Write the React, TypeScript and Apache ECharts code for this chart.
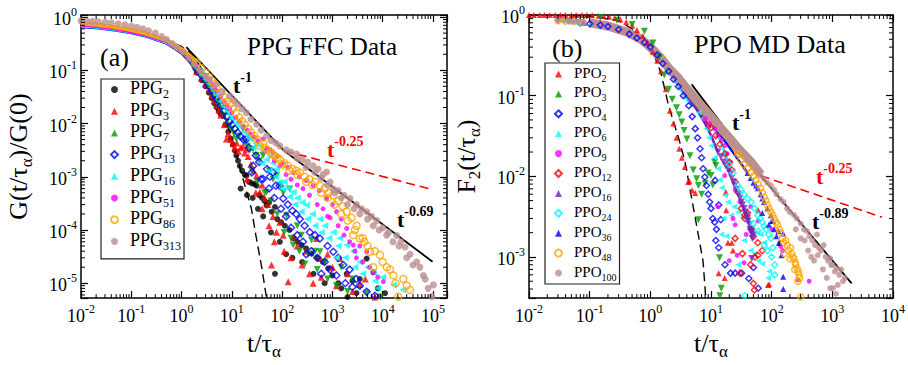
import React, { useEffect, useRef } from "react";
import * as echarts from "echarts";

const SERIF = '"Liberation Serif", "Times New Roman", "DejaVu Serif", serif';

type P = [number, number];

// ---------------- Panel (a): PPG FFC data ----------------
const A_X_MIN = 0.01, A_X_MAX = 190000, A_Y_MIN = 5.25e-6, A_Y_MAX = 1.094;
const A_EARLY_X = [0.01, 0.02, 0.05, 0.1, 0.2, 0.5, 1, 1.5, 2];
const PPG2_EARLY = [0.72, 0.68, 0.6, 0.53, 0.45, 0.33, 0.21, 0.14, 0.09];
const PPG3_EARLY = [0.72, 0.68, 0.6, 0.53, 0.45, 0.33, 0.21, 0.14, 0.095];
const PPG7_EARLY = [0.7, 0.66, 0.59, 0.52, 0.45, 0.33, 0.215, 0.145, 0.1];
const PPG13_EARLY = [0.65, 0.62, 0.56, 0.5, 0.43, 0.32, 0.215, 0.15, 0.105];
const PPG16_EARLY = [0.67, 0.64, 0.57, 0.51, 0.44, 0.33, 0.22, 0.155, 0.11];
const PPG51_EARLY = [0.7, 0.66, 0.59, 0.52, 0.45, 0.34, 0.23, 0.165, 0.12];
const PPG86_EARLY = [0.76, 0.72, 0.64, 0.57, 0.49, 0.37, 0.25, 0.185, 0.14];

const PPG2_PTS: P[] = [[2,0.09],[2.5,0.065],[3,0.05],[3.5,0.038],[4,0.03],[4.5,0.024],[5,0.02],[5.5,0.017],[6,0.015],[6.7,0.0138],[7.5,0.0095],[8.5,0.007],[9.5,0.0052],[10.5,0.004],[11.5,0.0031],[12.3,0.0025],[13.3,0.002],[14.4,0.0016],[16,0.0013],[18,0.0011],[19.5,0.00105],[22,0.0008],[25,0.00075],[28.6,0.00073],[31,0.00068],[35,0.00045],[40,0.0004],[45,0.00035],[49,0.00029],[55,0.00033],[62,0.00022],[72,0.00027],[80,0.00016],[95,0.00014],[113,0.00012],[140,0.0001],[170,0.00007],[200,0.00006],[243,0.000052],[300,0.000045],[385,0.000036],[500,0.00003],[650,0.000025],[828,0.000019],[1000,0.000014],[1310,0.00001],[1920,0.000015],[2500,0.000011],[4800,0.000029],[6520,0.000016],[11100,0.0000065],[72,0.000015],[2000,0.0000055],[3000,0.0000065],[15,0.0006],[20,0.00045],[26,0.0004],[33,0.00025],[42,0.00018],[60,0.00009],[90,0.00006],[120,0.000035],[160,0.00003],[250,0.000025],[420,0.000015],[700,0.00001],[1500,0.000008],[3500,0.000012],[8000,0.000008]];
const PPG3_PTS: P[] = [[2,0.095],[2.5,0.07],[3,0.055],[3.5,0.043],[4,0.034],[4.5,0.027],[5,0.022],[5.5,0.018],[6,0.0145],[7,0.0095],[7.8,0.0051],[8.5,0.0065],[9.5,0.005],[10.5,0.0042],[11.5,0.0035],[12.5,0.0043],[13.5,0.003],[15,0.0035],[16.6,0.0038],[18,0.0028],[19.5,0.0033],[21,0.0024],[24,0.0017],[27,0.0013],[31,0.00105],[36,0.00051],[40,0.0007],[45,0.0004],[52,0.0003],[61.5,0.000022],[66,0.00018],[77,0.000091],[90,0.00014],[105,0.00008],[132,0.0000107],[166,0.000074],[200,0.00005],[300,0.00004],[415,0.00001],[484,0.000069],[564,0.000029],[800,0.000035],[1000,0.00002],[1413,0.000029],[2000,0.000015],[3500,0.0000095],[7000,0.0000055],[20,0.0009],[30,0.0005],[40,0.00025],[55,0.00012],[70,0.00006],[110,0.00004],[150,0.00003],[250,0.000022],[350,0.000015],[600,0.000013],[1200,0.000009],[2500,0.000007],[4500,0.000012]];
const PPG7_PTS: P[] = [[2,0.1],[2.5,0.075],[3,0.06],[3.5,0.048],[4,0.038],[4.5,0.031],[5,0.026],[5.5,0.022],[6,0.019],[7,0.014],[8,0.011],[9,0.009],[10,0.0078],[11,0.0065],[12.3,0.0051],[14,0.0058],[16.6,0.0079],[18,0.0045],[20,0.0038],[23,0.0032],[26.3,0.0033],[30,0.0025],[35,0.002],[41.7,0.0025],[49,0.00051],[55,0.0013],[66,0.0009],[77,0.00105],[90,0.0007],[105,0.0005],[122,0.00019],[141,0.00059],[166,0.000052],[200,0.00012],[240,0.00008],[283,0.000023],[385,0.000065],[450,0.00004],[564,0.000039],[700,0.000025],[893,0.0000052],[1500,0.00002],[2500,0.000012],[4800,0.0000065],[9000,0.0000055],[25,0.0013],[32,0.0008],[45,0.0005],[60,0.00035],[80,0.0002],[110,0.00009],[150,0.00007],[220,0.00004],[330,0.000035],[500,0.000018],[800,0.000012],[1200,0.000009],[2000,0.000007]];
const PPG13_PTS: P[] = [[2,0.105],[2.5,0.08],[3,0.063],[3.5,0.051],[4,0.042],[4.5,0.035],[5,0.029],[6,0.022],[7,0.017],[8,0.0135],[9,0.011],[10,0.0095],[11.5,0.008],[13,0.0068],[15,0.0057],[17,0.005],[19.5,0.0051],[22,0.0035],[26.5,0.0016],[30,0.0025],[35,0.0019],[41.7,0.00091],[50,0.0014],[57,0.001],[66,0.0012],[75,0.00068],[89,0.00068],[105,0.00039],[130,0.0003],[160,0.00023],[190,0.0002],[225,0.00016],[280,0.00012],[355,0.000091],[450,0.00008],[564,0.000069],[800,0.00005],[1040,0.000039],[1300,0.00003],[1645,0.000022],[2200,0.000018],[3000,0.000012],[4800,0.0000069],[300,0.000035],[600,0.000015],[2500,0.0000085],[7000,0.0000058],[25,0.0012],[38,0.0009],[55,0.0006],[70,0.0004],[95,0.00025],[120,0.00018],[150,0.00011],[200,0.00008],[260,0.00006],[380,0.00004],[500,0.00003],[700,0.000025],[900,0.000018],[1200,0.000014],[1800,0.00001],[3500,0.000009]];
const PPG16_PTS: P[] = [[2,0.11],[2.5,0.085],[3,0.068],[3.5,0.056],[4,0.047],[4.5,0.04],[5,0.034],[6,0.026],[7,0.021],[8,0.017],[9,0.0145],[10,0.0125],[12,0.01],[14.4,0.0089],[17,0.007],[20,0.006],[23,0.0051],[26.5,0.0035],[30,0.0042],[36,0.0038],[42,0.003],[49,0.0021],[57,0.0025],[66,0.0018],[77,0.0014],[90,0.00079],[110,0.0008],[130,0.0006],[166,0.00051],[200,0.0004],[250,0.00033],[305,0.00029],[400,0.0002],[564,0.00016],[700,0.00012],[1040,0.000091],[1400,0.00007],[1920,0.000052],[2600,0.00004],[3530,0.000025],[5000,0.00002],[6520,0.000016],[10000,0.000013],[16300,0.0000093],[25000,0.0000075],[47500,0.0000052],[1200,0.00003],[8000,0.000008],[40,0.0018],[55,0.0013],[75,0.001],[100,0.0006],[140,0.00042],[180,0.0003],[240,0.00022],[320,0.00016],[450,0.00012],[600,0.00009],[850,0.00007],[1300,0.00005],[1800,0.00003],[2800,0.00002],[4000,0.000015],[7000,0.000011]];
const PPG51_PTS: P[] = [[2,0.12],[2.5,0.095],[3,0.078],[3.5,0.065],[4,0.055],[4.5,0.047],[5,0.041],[6,0.032],[7,0.026],[8,0.022],[9,0.019],[10,0.016],[12,0.013],[14,0.011],[17,0.0088],[20,0.0075],[24,0.0063],[28,0.0055],[33,0.0047],[41.7,0.0051],[50,0.0035],[58,0.0032],[66,0.0029],[80,0.0024],[100,0.0018],[130,0.0015],[166,0.0012],[220,0.001],[300,0.00085],[415,0.00068],[550,0.00055],[766,0.00039],[1000,0.0003],[1212,0.00022],[1500,0.00016],[1920,0.000107],[2600,0.000052],[3500,0.00005],[4800,0.000039],[6520,0.000016],[10300,0.0000107],[800,0.00018],[3000,0.00003],[45,0.003],[70,0.002],[90,0.0016],[120,0.0011],[150,0.0009],[200,0.0007],[260,0.0006],[350,0.00045],[500,0.0003],[650,0.00025],[900,0.00017],[1300,0.00012],[1700,0.00008],[2200,0.00006],[2800,0.00004],[4000,0.000025],[5500,0.00002],[8000,0.000013]];
const PPG86_PTS: P[] = [[2,0.14],[2.5,0.11],[3,0.09],[3.5,0.075],[4,0.064],[4.5,0.055],[5,0.048],[6,0.038],[7,0.031],[8,0.026],[9.2,0.023],[10.5,0.019],[12,0.016],[14,0.013],[16,0.011],[18,0.0095],[21,0.008],[24,0.0068],[28,0.0058],[32,0.005],[36,0.0038],[42,0.0042],[50,0.0032],[60,0.0028],[70,0.0025],[80,0.0023],[90,0.0021],[110,0.0018],[130,0.0016],[160,0.0014],[190,0.0013],[225,0.0012],[280,0.001],[350,0.0009],[450,0.0008],[564,0.00068],[700,0.0006],[850,0.0005],[1040,0.00045],[1300,0.00035],[1600,0.00028],[1920,0.00022],[2400,0.00017],[3030,0.00012],[3530,0.000069],[4300,0.00006],[5600,0.000039],[8850,0.000034],[12000,0.00002],[16300,0.000014],[25700,0.000012],[35000,0.0000075],[20400,0.0000056],[6500,0.00002],[2600,0.00008],[45,0.0035],[65,0.0026],[100,0.0017],[140,0.0013],[200,0.0011],[300,0.0008],[400,0.0007],[600,0.0005],[800,0.0004],[1100,0.0003],[1500,0.0002],[2000,0.00015],[2800,0.0001],[4000,0.00007],[5000,0.00005],[7000,0.00004],[10000,0.000025],[14000,0.000018],[18000,0.00001],[30000,0.000009]];
const PPG313_PTS: P[] = [[0.01,0.85],[0.013,0.84],[0.017,0.83],[0.022,0.82],[0.03,0.8],[0.04,0.78],[0.055,0.75],[0.075,0.72],[0.1,0.68],[0.13,0.64],[0.17,0.6],[0.22,0.55],[0.3,0.5],[0.4,0.43],[0.5,0.38],[0.65,0.32],[0.8,0.27],[1.07,0.225],[1.4,0.17],[1.8,0.13],[2.3,0.1],[3,0.078],[3.6,0.067],[4.9,0.054],[6.5,0.04],[9.1,0.033],[11,0.027],[13.1,0.023],[16,0.019],[19.5,0.016],[24,0.012],[31,0.0097],[38,0.0075],[49,0.0059],[60,0.0048],[75,0.0043],[90,0.0038],[120,0.0032],[150,0.0029],[194,0.00266],[250,0.0021],[320,0.0019],[410,0.0016],[520,0.0014],[650,0.0011],[766,0.00123],[900,0.0008],[1040,0.00059],[1300,0.00055],[1700,0.00045],[2240,0.00039],[3000,0.0003],[3800,0.00025],[4800,0.00022],[6000,0.00018],[7600,0.00015],[10000,0.00011],[13000,0.00009],[19000,0.000079],[23000,0.00006],[27900,0.000048],[35000,0.000035],[47500,0.000025],[55000,0.00002],[64500,0.000014],[102000,0.0000093],[95000,0.0000056],[200,0.0022],[300,0.0015],[450,0.0012],[600,0.00095],[800,0.0007],[1100,0.0005],[1500,0.0004],[2000,0.0003],[2700,0.00025],[3500,0.0002],[5000,0.00016],[6500,0.00012],[8500,0.0001],[12000,0.00008],[16000,0.00006],[21000,0.00005],[30000,0.00003],[40000,0.000022],[70000,0.000012],[80000,0.000008]];

const A_SLOPE_ONE: P[] = [[1.24, 0.272], [110, 0.00307], [98000, 2.54e-5]];
const A_SLOPE_QUARTER: P[] = [[110, 0.00307], [98000, 5.75e-4]];
const A_DASHED: P[] = [[0.01,0.8],[0.03,0.72],[0.1,0.6],[0.3,0.45],[1,0.28],[1.6,0.2],[3,0.085],[5,0.033],[7,0.014],[10.6,0.0044],[15,0.0013],[20,5e-4],[24.5,2.5e-4],[30,8e-5],[40,1.8e-5],[49,5.2e-6]];

// ---------------- Panel (b): PPO MD data ----------------
const B_X_MIN = 0.01, B_X_MAX = 10000, B_Y_MIN = 3.09e-4, B_Y_MAX = 1;

const PPO2_PTS: P[] = [[0.01,1],[0.012,1],[0.015,1],[0.018,1],[0.022,1],[0.027,1],[0.033,1],[0.04,1],[0.05,1],[0.06,1],[0.075,1],[0.09,1],[0.11,0.99],[0.14,0.98],[0.17,0.97],[0.21,0.95],[0.26,0.92],[0.32,0.88],[0.4,0.82],[0.5,0.74],[0.6,0.65],[0.75,0.55],[0.9,0.45],[1.1,0.35],[1.3,0.27],[1.5,0.2],[1.8,0.12],[2.1,0.065],[2.4,0.045],[2.7,0.03],[3,0.022],[3.3,0.017],[3.7,0.013],[4.2,0.0085],[4.4,0.0087],[4.9,0.0067],[5.5,0.0062],[13.4,0.00063],[16.8,0.00055],[17.6,0.0064],[17.8,0.0038],[19,0.0015],[22,0.0015],[23,0.0012],[60,0.0038],[87,0.00045],[91,0.00046]];
const PPO3_PTS: P[] = [[0.15,0.93],[0.28,0.86],[0.5,0.76],[0.8,0.63],[1.1,0.45],[1.4,0.3],[1.7,0.18],[2,0.12],[2.3,0.09],[2.7,0.071],[3,0.058],[3.3,0.047],[3.6,0.037],[4,0.029],[4.5,0.018],[5.1,0.012],[5.8,0.0093],[6.2,0.0077],[6.2,0.0029],[7,0.006],[8,0.0082],[9,0.011],[10,0.0102],[10.7,0.0078],[11.5,0.015],[12,0.0136],[13.8,0.00098],[14.8,0.00041],[14,0.00033]];
const PPO4_PTS: P[] = [[0.07,0.8],[0.1,0.78],[0.15,0.75],[0.2,0.72],[0.3,0.66],[0.45,0.58],[0.6,0.52],[0.8,0.46],[1,0.4],[1.3,0.32],[1.6,0.25],[2,0.2],[2.4,0.16],[2.9,0.13],[3.5,0.1],[4.3,0.075],[4.9,0.055],[5.5,0.039],[6,0.03],[6.6,0.022],[7,0.017],[7.4,0.0124],[7.9,0.0098],[8.4,0.0077],[9,0.006],[9.5,0.0048],[10,0.004],[10.7,0.003],[11.7,0.0089],[12.3,0.0022],[13.4,0.0044],[13.4,0.0013],[14.5,0.0029],[17,0.0008],[21,0.00063],[25,0.00063],[32,0.00063],[42,0.00054],[50,0.00074],[60,0.00041],[11.5,0.0027],[12,0.0016]];
const PPO6_BAND: P[] = [[0.1,0.79],[0.3,0.66],[0.6,0.52],[1,0.4],[1.5,0.28],[2,0.2],[3,0.125],[4,0.09],[5,0.073]];
const PPO6_PTS: P[] = [[0.04,0.84],[0.055,0.82],[6.35,0.062],[7.2,0.052],[8.4,0.039],[9.2,0.03],[10.1,0.024],[11.5,0.017],[13,0.0124],[14,0.009],[15,0.0072],[16,0.003],[14.8,0.0019],[17,0.0058],[19,0.0048],[21.5,0.0033],[18,0.0018],[24,0.0042],[28,0.0036],[33,0.0031],[40,0.0027],[48,0.0023],[57,0.002],[66,0.0019],[75,0.0015],[91,0.00066],[87,0.00055],[35,0.0016],[45,0.0012],[60,0.0009],[28,0.0008],[52,0.0011],[70,0.00082]];
const PPO9_BAND: P[] = [[0.1,0.79],[0.3,0.66],[0.6,0.52],[1,0.4],[1.5,0.28],[2,0.2],[3,0.135],[4,0.1],[6,0.07],[8,0.052]];
const PPO9_PTS: P[] = [[0.05,0.83],[8,0.052],[9.5,0.045],[11.5,0.039],[13,0.032],[15,0.028],[16.8,0.024],[16.8,0.0102],[18.5,0.019],[20,0.012],[21,0.015],[23,0.003],[25,0.0025],[25,0.0068],[27,0.00105],[30,0.0048],[38,0.0019],[45,0.0042],[60,0.0028],[100,0.0022],[141,0.00135],[152,0.0012],[270,0.00052],[415,0.0005],[13,0.0042],[20,0.0009],[35,0.00085]];
const PPO12_BAND: P[] = [[0.1,0.79],[0.3,0.66],[0.6,0.52],[1,0.4],[1.5,0.28],[2,0.205],[3,0.14],[4,0.105],[6,0.07],[8,0.05],[10,0.04]];
const PPO12_PTS: P[] = [[10,0.04],[12,0.032],[14,0.025],[17,0.019],[20,0.015],[22,0.012],[25,0.0085],[28,0.0063],[31.6,0.004],[36,0.0033],[36,0.003],[40,0.0035],[46,0.0022],[50,0.0018],[59,0.0015],[59,0.00105],[53,0.001],[50,0.00047],[52,0.00039],[30,0.00063],[25,0.0017],[33,0.0011],[45,0.0008],[70,0.0012]];
const PPO16_BAND: P[] = [[0.1,0.79],[0.3,0.66],[0.6,0.52],[1,0.4],[1.5,0.28],[2,0.205],[3,0.14],[4,0.1],[6,0.065],[8,0.045],[10,0.032],[13,0.02]];
const PPO16_PTS: P[] = [[0.03,0.85],[0.045,0.83],[0.065,0.81],[13,0.02],[14.5,0.0175],[16,0.015],[17.5,0.0135],[19,0.0124],[20.5,0.0108],[22,0.0095],[23.5,0.0085],[24.5,0.0077],[26,0.0069],[28,0.006],[30,0.0054],[31.6,0.0048],[33,0.0044],[35,0.004],[36.5,0.0036],[38,0.0033],[40,0.003],[41,0.0028],[43,0.0025],[44,0.0022],[46,0.002],[48,0.0017],[50,0.0019],[47,0.00096],[45,0.0021]];
const PPO24_BAND: P[] = [[0.1,0.79],[0.3,0.66],[0.6,0.52],[1,0.4],[1.5,0.285],[2,0.21],[3,0.145],[4,0.11],[6,0.075],[9,0.05],[13,0.033],[20,0.014]];
const PPO24_PTS: P[] = [[0.05,0.83],[0.07,0.81],[20,0.014],[23,0.011],[27.5,0.0077],[31,0.0068],[35,0.006],[40,0.0053],[46,0.0048],[52,0.004],[59,0.0033],[65,0.003],[70,0.0027],[75,0.0024],[80,0.0022],[90,0.0019],[97,0.0017],[100,0.001],[105,0.0013],[112,0.0008],[112,0.0006],[36,0.00033],[75,0.0014],[85,0.0012],[60,0.0021],[50,0.0026]];
const PPO36_BAND: P[] = [[0.1,0.79],[0.3,0.66],[0.6,0.52],[1,0.4],[1.5,0.285],[2,0.21],[3,0.15],[4,0.115],[6,0.078],[9,0.052],[13,0.036],[20,0.023],[30,0.015],[40,0.011]];
const PPO36_PTS: P[] = [[0.08,0.8],[40,0.011],[45,0.0095],[50,0.0083],[55,0.0077],[59,0.0071],[66,0.006],[70,0.0053],[75,0.0048],[85,0.004],[97,0.0033],[105,0.0028],[110,0.0022],[120,0.0018],[132,0.0015],[155,0.00195],[135,0.0015],[145,0.00105],[155,0.00057],[155,0.0004],[100,0.0028],[70,0.0035],[90,0.0025],[130,0.0021]];
const PPO48_BAND: P[] = [[0.1,0.79],[0.3,0.665],[0.6,0.52],[1,0.4],[1.5,0.29],[2,0.215],[3,0.155],[4,0.118],[6,0.082],[9,0.056],[13,0.04],[20,0.027],[27.5,0.019]];
const PPO48_PTS: P[] = [[0.03,0.85],[0.04,0.84],[0.055,0.83],[0.075,0.81],[27.5,0.019],[31,0.016],[35,0.014],[40,0.0125],[46,0.0112],[50,0.01],[55,0.009],[60,0.008],[66,0.0071],[70,0.0063],[75,0.0055],[80,0.005],[85,0.0044],[90,0.004],[97,0.0036],[104,0.0033],[110,0.003],[118,0.0027],[125,0.0025],[133,0.0022],[141,0.002],[150,0.0017],[158,0.0015],[170,0.0016],[180,0.0014],[190,0.0012],[204,0.0013],[215,0.0011],[220,0.001],[234,0.00096],[245,0.00085],[250,0.0008],[263,0.00072],[275,0.00066],[282,0.0006],[270,0.0005],[290,0.00055],[302,0.00032],[160,0.0011],[240,0.0007],[200,0.00095]];
const PPO100_BAND: P[] = [[0.1,0.8],[0.2,0.73],[0.4,0.62],[0.7,0.5],[1,0.4],[1.5,0.29],[2,0.22],[3,0.16],[4,0.122],[6,0.085],[9,0.06],[13,0.043],[20,0.03],[30,0.021],[46,0.015],[66,0.0105]];
const PPO100_PTS: P[] = [[0.03,0.87],[0.037,0.86],[0.045,0.85],[0.055,0.84],[0.067,0.83],[0.08,0.82],[66,0.0102],[75,0.0092],[85,0.0083],[97,0.0077],[110,0.0068],[120,0.006],[140,0.0052],[158,0.0048],[180,0.004],[200,0.0036],[234,0.0033],[260,0.003],[300,0.0026],[340,0.0022],[380,0.0021],[420,0.0018],[470,0.0016],[520,0.0014],[560,0.0019],[600,0.0013],[650,0.0012],[720,0.0014],[780,0.001],[850,0.0009],[920,0.00096],[1000,0.0008],[1170,0.00072],[1100,0.00066],[810,0.00055],[920,0.00041],[575,0.00105],[955,0.0008],[1230,0.00045],[1020,0.00041],[1300,0.0006],[1500,0.0005],[1400,0.0007],[700,0.0007],[500,0.0009],[400,0.0012],[350,0.0016],[450,0.001],[300,0.0017],[250,0.0022],[1150,0.00035],[1600,0.00055]];

const B_SLOPE_ONE: P[] = [[4.79, 0.138], [66, 0.0102], [2080, 4.7e-4]];
const B_SLOPE_QUARTER: P[] = [[66, 0.0102], [6600, 0.0031]];
const B_DASHED: P[] = [[0.01,1],[0.1,0.97],[0.3,0.85],[0.6,0.62],[1.07,0.37],[1.5,0.19],[2,0.075],[3,0.028],[3.74,0.015],[5.4,0.0033],[7.4,8.8e-4],[8.2,3.1e-4]];

// ---------------- styling ----------------
const C = {
  black: "#000000", red: "#ff0000", green: "#009a00", blue: "#0000ff", cyan: "#00ffff",
  magenta: "#ff00ff", orange: "#ffa500", brown: "#bc8f8f", purple: "#7221bc",
};

type SetDef = { name: string; pts: P[]; band?: P[]; color: string; symbol: string; rot: number; open: boolean; size: number; bandWidth?: number };

const zip = (xs: number[], ys: number[]): P[] => xs.map((x, i) => [x, ys[i]]);

const A_SETS: SetDef[] = [
  { name: "PPG2", pts: PPG2_PTS, band: zip(A_EARLY_X, PPG2_EARLY), color: C.black, symbol: "circle", rot: 0, open: false, size: 6 },
  { name: "PPG3", pts: PPG3_PTS, band: zip(A_EARLY_X, PPG3_EARLY), color: C.red, symbol: "triangle", rot: 0, open: false, size: 7 },
  { name: "PPG7", pts: PPG7_PTS, band: zip(A_EARLY_X, PPG7_EARLY), color: C.green, symbol: "triangle", rot: 180, open: false, size: 7 },
  { name: "PPG13", pts: PPG13_PTS, band: zip(A_EARLY_X, PPG13_EARLY), color: C.blue, symbol: "diamond", rot: 0, open: true, size: 7 },
  { name: "PPG16", pts: PPG16_PTS, band: zip(A_EARLY_X, PPG16_EARLY), color: C.cyan, symbol: "triangle", rot: 90, open: false, size: 7 },
  { name: "PPG51", pts: PPG51_PTS, band: zip(A_EARLY_X, PPG51_EARLY), color: C.magenta, symbol: "circle", rot: 0, open: false, size: 5 },
  { name: "PPG86", pts: PPG86_PTS, band: zip(A_EARLY_X, PPG86_EARLY), color: C.orange, symbol: "circle", rot: 0, open: true, size: 7, bandWidth: 4 },
  { name: "PPG313", pts: PPG313_PTS, color: C.brown, symbol: "circle", rot: 0, open: false, size: 7 },
];

const B_SETS: SetDef[] = [
  { name: "PPO2", pts: PPO2_PTS, color: C.red, symbol: "triangle", rot: 0, open: false, size: 6 },
  { name: "PPO3", pts: PPO3_PTS, color: C.green, symbol: "triangle", rot: 180, open: false, size: 7 },
  { name: "PPO4", pts: PPO4_PTS, color: C.blue, symbol: "diamond", rot: 0, open: true, size: 6 },
  { name: "PPO6", pts: PPO6_PTS, band: PPO6_BAND, color: C.cyan, symbol: "triangle", rot: 90, open: false, size: 6 },
  { name: "PPO9", pts: PPO9_PTS, band: PPO9_BAND, color: C.magenta, symbol: "circle", rot: 0, open: false, size: 5 },
  { name: "PPO12", pts: PPO12_PTS, band: PPO12_BAND, color: C.red, symbol: "diamond", rot: 0, open: true, size: 6 },
  { name: "PPO16", pts: PPO16_PTS, band: PPO16_BAND, color: C.purple, symbol: "triangle", rot: 180, open: false, size: 7 },
  { name: "PPO24", pts: PPO24_PTS, band: PPO24_BAND, color: C.cyan, symbol: "diamond", rot: 0, open: true, size: 6 },
  { name: "PPO36", pts: PPO36_PTS, band: PPO36_BAND, color: C.blue, symbol: "triangle", rot: 0, open: false, size: 6 },
  { name: "PPO48", pts: PPO48_PTS, band: PPO48_BAND, color: C.orange, symbol: "circle", rot: 0, open: true, size: 6, bandWidth: 4 },
  { name: "PPO100", pts: PPO100_PTS, band: PPO100_BAND, color: C.brown, symbol: "circle", rot: 0, open: false, size: 6, bandWidth: 9 },
];

const tickRich = {
  b: { fontSize: 18, fontFamily: SERIF, color: "#000", padding: [4, 0, 0, 0] },
  s: { fontSize: 12, fontFamily: SERIF, color: "#000", verticalAlign: "top" },
};

function tickFmt(v: number) {
  const e = Math.log10(v);
  const r = Math.round(e);
  if (Math.abs(e - r) > 1e-6) return "";
  return `{b|10}{s|${r}}`;
}

const nameRich = {
  b: { fontSize: 26, fontFamily: SERIF, color: "#000", verticalAlign: "top" },
  s: { fontSize: 17, fontFamily: SERIF, color: "#000", verticalAlign: "top", padding: [13, 0, 0, 0] },
};

function xAxis(grid: number, min: number, max: number, main: boolean) {
  return {
    type: "log", logBase: 10, gridIndex: grid, min, max, splitNumber: 5,
    position: main ? "bottom" : "top",
    axisLine: { show: true, onZero: false, lineStyle: { color: "#000", width: 1.5 } },
    axisTick: { show: true, inside: true, length: 7, lineStyle: { color: "#000", width: 1.2 } },
    splitLine: { show: false },
    axisLabel: main ? { show: true, interval: 0, margin: 5, formatter: tickFmt, rich: tickRich } : { show: false },
    name: main ? "{b|t/τ}{s|α}" : "",
    nameLocation: "middle", nameGap: 30,
    nameTextStyle: { rich: nameRich },
  };
}

function yAxis(grid: number, min: number, max: number, main: boolean, name: string) {
  return {
    type: "log", logBase: 10, gridIndex: grid, min, max, splitNumber: 5,
    position: main ? "left" : "right",
    axisLine: { show: true, onZero: false, lineStyle: { color: "#000", width: 1.5 } },
    axisTick: { show: true, inside: true, length: 7, lineStyle: { color: "#000", width: 1.2 } },
    splitLine: { show: false },
    axisLabel: main ? { show: true, interval: 0, margin: 4, formatter: tickFmt, rich: tickRich } : { show: false },
    name: main ? name : "",
    nameLocation: "middle", nameGap: 46,
    nameTextStyle: { rich: nameRich },
  };
}

function minorTicks(xi: number, yi: number, xmin: number, xmax: number, ymin: number, ymax: number) {
  const data: number[][] = [];
  for (let d = Math.floor(Math.log10(xmin)); d <= Math.ceil(Math.log10(xmax)); d++)
    for (let m = 2; m <= 9; m++) { const v = m * Math.pow(10, d); if (v > xmin && v < xmax) data.push([v, ymax, 0]); }
  for (let d = Math.floor(Math.log10(ymin)); d <= Math.ceil(Math.log10(ymax)); d++)
    for (let m = 2; m <= 9; m++) { const v = m * Math.pow(10, d); if (v > ymin && v < ymax) data.push([xmax, v, 1]); }
  return {
    type: "custom", xAxisIndex: xi, yAxisIndex: yi, silent: true, z: 20, clip: false, data,
    renderItem: (params: any, api: any) => {
      const cs = params.coordSys;
      const kind = api.value(2);
      const p = api.coord([api.value(0), api.value(1)]);
      const st = { stroke: "#000", lineWidth: 1 };
      if (kind === 0) {
        return { type: "group", children: [
          { type: "line", shape: { x1: p[0], y1: cs.y + cs.height, x2: p[0], y2: cs.y + cs.height - 4 }, style: st },
          { type: "line", shape: { x1: p[0], y1: cs.y, x2: p[0], y2: cs.y + 4 }, style: st },
        ] };
      }
      return { type: "group", children: [
        { type: "line", shape: { x1: cs.x, y1: p[1], x2: cs.x + 4, y2: p[1] }, style: st },
        { type: "line", shape: { x1: cs.x + cs.width, y1: p[1], x2: cs.x + cs.width - 4, y2: p[1] }, style: st },
      ] };
    },
  };
}

function lineSeries(name: string, data: P[], xi: number, yi: number, color: string, width: number, type: string) {
  return {
    type: "line", name, xAxisIndex: xi, yAxisIndex: yi, data, showSymbol: false, symbol: "none",
    silent: true, z: 2, lineStyle: { color, width, type: type === "dashed" ? [9, 5] : "solid" },
  };
}

function setSeries(s: SetDef, xi: number, yi: number) {
  const out: any[] = [];
  if (s.band) {
    out.push({
      type: "line", name: s.name + " band", xAxisIndex: xi, yAxisIndex: yi, data: s.band,
      showSymbol: false, symbol: "none", silent: true, z: 3,
      lineStyle: { color: s.color, width: s.bandWidth || 2.5 },
    });
  }
  out.push({
    type: "scatter", name: s.name, xAxisIndex: xi, yAxisIndex: yi, data: s.pts, z: 3,
    symbol: s.symbol, symbolRotate: s.rot, symbolSize: s.size, silent: true,
    itemStyle: s.open
      ? { color: "rgba(255,255,255,0)", borderColor: s.color, borderWidth: 1.5 }
      : { color: s.color, borderWidth: 0 },
  });
  return out;
}

function legendFmt(name: string) {
  const m = name.match(/^([A-Z]+)(\d+)$/);
  return m ? `{b|${m[1]}}{s|${m[2]}}` : name;
}

function legend(names: string[], left: number, top: number, fs: number, sfs: number, gap: number, pad: number[]) {
  return {
    data: names, left, top, orient: "vertical", selectedMode: false,
    itemWidth: 7, itemHeight: 7, itemGap: gap,
    padding: pad, borderColor: "#222", borderWidth: 1.2, backgroundColor: "#fff",
    formatter: legendFmt,
    textStyle: {
      color: "#000", fontFamily: SERIF, fontSize: fs,
      rich: {
        b: { fontSize: fs, fontFamily: SERIF, color: "#000", verticalAlign: "top", lineHeight: fs + 2, padding: [0, 0, 0, 7] },
        s: { fontSize: sfs, fontFamily: SERIF, color: "#000", verticalAlign: "top", padding: [Math.round(fs * 0.5), 0, 0, 0] },
      },
    },
  };
}

function tLabel(x: number, y: number, sup: string, color: string) {
  return {
    type: "text", x, y, silent: true, z: 50,
    style: {
      text: `{b|t}{s|${sup}}`, fill: color, align: "left", verticalAlign: "top",
      rich: {
        b: { fontSize: 22, fontWeight: "bold", fontFamily: SERIF, fill: color, padding: [4, 0, 0, 0] },
        s: { fontSize: 14, fontWeight: "bold", fontFamily: SERIF, fill: color, verticalAlign: "top" },
      },
    },
  };
}

function plainText(x: number, y: number, text: string, size: number) {
  return {
    type: "text", x, y, silent: true, z: 50,
    style: { text, fill: "#000", fontSize: size, fontFamily: SERIF, align: "left", verticalAlign: "middle" },
  };
}

function buildOption() {
  const series: any[] = [];
  series.push(lineSeries("a t^-1", A_SLOPE_ONE, 0, 0, "#000", 1.8, "solid"));
  series.push(lineSeries("a t^-0.25", A_SLOPE_QUARTER, 0, 0, "#ff0000", 1.6, "dashed"));
  series.push(lineSeries("a fit", A_DASHED, 0, 0, "#000", 1.4, "dashed"));
  series.push(lineSeries("b t^-1", B_SLOPE_ONE, 2, 2, "#000", 1.8, "solid"));
  series.push(lineSeries("b t^-0.25", B_SLOPE_QUARTER, 2, 2, "#ff0000", 1.6, "dashed"));
  series.push(lineSeries("b fit", B_DASHED, 2, 2, "#000", 1.4, "dashed"));
  A_SETS.forEach((s) => series.push(...setSeries(s, 0, 0)));
  B_SETS.forEach((s) => series.push(...setSeries(s, 2, 2)));
  series.push(minorTicks(0, 0, A_X_MIN, A_X_MAX, A_Y_MIN, A_Y_MAX));
  series.push(minorTicks(2, 2, B_X_MIN, B_X_MAX, B_Y_MIN, B_Y_MAX));

  return {
    animation: false,
    backgroundColor: "#ffffff",
    grid: [
      { left: 81, top: 15, width: 366, height: 285 },
      { left: 529, top: 15, width: 368, height: 285 },
    ],
    xAxis: [
      xAxis(0, A_X_MIN, A_X_MAX, true), xAxis(0, A_X_MIN, A_X_MAX, false),
      xAxis(1, B_X_MIN, B_X_MAX, true), xAxis(1, B_X_MIN, B_X_MAX, false),
    ],
    yAxis: [
      yAxis(0, A_Y_MIN, A_Y_MAX, true, "{b|G(t/τ}{s|α}{b|)/G(0)}"), yAxis(0, A_Y_MIN, A_Y_MAX, false, ""),
      yAxis(1, B_Y_MIN, B_Y_MAX, true, "{b|F}{s|2}{b|(t/τ}{s|α}{b|)}"), yAxis(1, B_Y_MIN, B_Y_MAX, false, ""),
    ],
    legend: [
      legend(A_SETS.map((s) => s.name), 101, 79, 18, 12, 0.7, [0, 3, 7, 9]),
      legend(B_SETS.map((s) => s.name), 545, 63, 15, 10, 1.9, [2, 3, 2, 9]),
    ],
    graphic: [
      plainText(247, 46, "PPG FFC Data", 25),
      plainText(100, 57, "(a)", 26),
      tLabel(233, 70, "-1", "#000"),
      tLabel(327, 134, "-0.25", "#ff0000"),
      tLabel(397, 204, "-0.69", "#000"),
      plainText(694, 44, "PPO MD Data", 26),
      plainText(552, 48, "(b)", 26),
      tLabel(732, 107, "-1", "#000"),
      tLabel(816, 161, "-0.25", "#ff0000"),
      tLabel(812, 206, "-0.89", "#000"),
    ],
    series,
  };
}

export default function App() {
  const ref = useRef<HTMLDivElement>(null);
  useEffect(() => {
    document.body.style.margin = "0";
    const chart = echarts.init(ref.current as HTMLDivElement, null, { renderer: "svg" });
    chart.setOption(buildOption() as any);
    return () => chart.dispose();
  }, []);
  return <div ref={ref} style={{ width: 908, height: 365 }} />;
}
